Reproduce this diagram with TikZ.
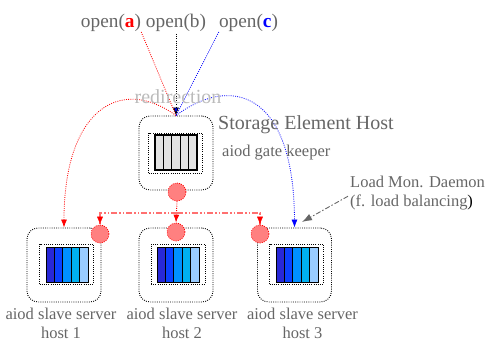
\documentclass[tikz,border=0pt]{standalone}
\usepackage{fontspec}
\setmainfont{Liberation Serif}
\usetikzlibrary{arrows.meta}
\definecolor{labelgray}{HTML}{666666}
\definecolor{redirgray}{HTML}{BBBBBB}
\definecolor{monred}{HTML}{FF8080}
\definecolor{linered}{HTML}{FF7070}
\definecolor{barA}{HTML}{2828D8}
\definecolor{barB}{HTML}{0A40FF}
\definecolor{barC}{HTML}{0090FF}
\definecolor{barD}{HTML}{00B0F0}
\definecolor{barE}{HTML}{99CCFF}
\tikzset{
    finedots/.style={dash pattern=on .9pt off 1.3pt},
    hostbox/.style={draw, finedots, line width=.9pt, rounded corners=11pt, minimum width=74pt, minimum height=74pt, inner sep=0pt},
    slotbox/.style={draw, finedots, line width=.8pt, minimum width=54pt, minimum height=40pt, inner sep=0pt},
    monitor/.style={circle, draw=red, finedots, line width=.7pt, fill=monred, minimum size=18pt, inner sep=0pt},
    hosttext/.style={text=labelgray, font=\fontsize{16.5}{18}\selectfont, inner sep=0pt},
    bigtext/.style={text=labelgray, font=\fontsize{19.3}{21}\selectfont, inner sep=0pt},
    openline/.style={finedots, line width=.8pt},
    tip/.style={-{Latex[length=8pt,width=6pt]}},
    redchain/.style={linered, dash pattern=on 6pt off 2pt on 1.5pt off 2pt on 1.5pt off 2pt, line width=1.3pt},
}
\begin{document}
\begin{tikzpicture}[x=1pt, y=-1pt]
        \useasboundingbox (0,0) rectangle (488,341);

        % request labels
        \node[bigtext] (opena) at (111,23) {open({\color{red}\textbf{a}})};
        \node[bigtext] (openb) at (176,23) {open(b)};
        \node[bigtext] (openc) at (248.5,23) {open({\color{blue}\textbf{c}})};

        % gate keeper
        \node[hostbox] (gate) at (176,153) {};
        \node[slotbox] (gateslot) at (175.5,153) {};
        \foreach \i in {0,...,4} {
            \draw[fill=gray!22, line width=1.2pt] (155+\i*8.4,135) rectangle (163.4+\i*8.4,170);
        }
        \node[monitor] (mongate) at (177,192) {};

        % slave hosts
        \foreach \name/\x/\dx in {hosta/64/2.5, hostb/176/2, hostc/294.5/2} {
            \node[hostbox] (\name) at (\x,265) {};
            \node[slotbox] (\name slot) at (\x+\dx,264) {};
        }
        \foreach \x in {46,157,276} {
            \foreach \c [count=\i from 0] in {barA,barB,barC,barD,barE} {
                \draw[fill=\c, line width=1pt] (\x+\i*8.4,247) rectangle (\x+8.4+\i*8.4,282);
            }
        }
        \node[monitor] (mona) at (100,234) {};
        \node[monitor] (monb) at (176,232) {};
        \node[monitor] (monc) at (260,234) {};

        % open requests
        \coordinate (split) at (177,213);
        \draw[openline, red] (opena.south east) -- (gate.north);
        \draw[openline, blue] (openc.south west) -- (gate.north);
        \draw[openline, -{Latex[length=8pt,width=6pt,fill=blue]}] (openb.south) ++(0,2) -- (gate.north);

        % redirection
        \draw[openline, red, tip] (gate.north) .. controls (120,75) and (64,110) .. (hosta.north);
        \draw[openline, blue, tip] (gate.north) .. controls (230,75) and (294,90) .. (hostc.north);
        \node[hosttext, text=redirgray, font=\fontsize{20}{21}\selectfont] (redir) at (178,97) {redirection};

        % load monitoring
        \draw[red, finedots, line width=1pt, tip] (mongate.south) -- (monb.north);
        \draw[redchain] (split) -| (mona.north);
        \draw[redchain] (split) -| (monc.north);
        \draw[red, tip] (mona.north) ++(0,-6) -- (mona.north);
        \draw[red, tip] (monc.north) ++(0,-6) -- (monc.north);

        % texts
        \node[bigtext, font=\fontsize{20}{21}\selectfont, anchor=west] (title) at (218,125) {Storage Element Host};
        \node[hosttext, anchor=west] (keeper) at (222,153) {aiod gate keeper};
        \node[hosttext, anchor=west] (daemon) at (350,182) {Load Mon. Daemon};
        \node[hosttext, anchor=west] (balance) at (350,202) {(f. load balancing{\color{black})}};
        \draw[labelgray, dash pattern=on 5pt off 2pt on 1.5pt off 2pt, line width=.9pt, -{Latex[length=10pt,width=7pt]}] (balance.north west) ++(-2,2) -- (302,222);

        \node[hosttext, align=center] (labela) at (61,323) {aiod slave server\\[1pt]host 1};
        \node[hosttext, align=center] (labelb) at (182,323) {aiod slave server\\[1pt]host 2};
        \node[hosttext, align=center] (labelc) at (302.5,323) {aiod slave server\\[1pt]host 3};
\end{tikzpicture}
\end{document}
